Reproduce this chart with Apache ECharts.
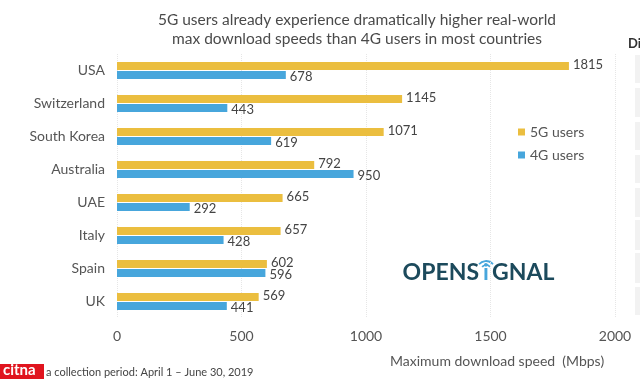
<!DOCTYPE html>
<html><head><meta charset="utf-8">
<script src="https://cdn.jsdelivr.net/npm/echarts@6/dist/echarts.min.js"></script>
<style>html,body{margin:0;padding:0;background:#fff}#c{width:640px;height:379px}</style>
</head><body><div id="c"></div>
<script>
const countries = ['USA','Switzerland','South Korea','Australia','UAE','Italy','Spain','UK'];
const users5G = [1815,1145,1071,792,665,657,602,569];
const users4G = [678,443,619,950,292,428,596,441];
const xTicks = [0,500,1000,1500,2000];
const titleText = '5G users already experience dramatically higher real-world\nmax download speeds than 4G users in most countries';
const axisName = 'Maximum download speed  (Mbps)';
const footer = 'a collection period: April 1 – June 30, 2019';

const F = 'Lato, "Open Sans", sans-serif';
const chart = echarts.init(document.getElementById('c'), null, {renderer:'canvas'});
const sideBoxes = [[55,83],[88,117],[122,150],[155,183],[188,217],[220,250],[253,283],[287,315]].map(b=>({
  type:'rect', shape:{x:635,y:b[0],width:5,height:b[1]-b[0]}, style:{fill:'#f2f2f2'}, silent:true
}));
chart.setOption({
  animation:false,
  backgroundColor:'#fff',
  title:{text:titleText,left:352,top:5,textAlign:'center',
    textStyle:{fontFamily:F,fontSize:15.5,fontWeight:'normal',color:'#4a4a4a',lineHeight:19}},
  legend:{orient:'vertical',left:513,top:120,itemWidth:7,itemHeight:7,itemGap:9,icon:'rect',
    textStyle:{fontFamily:F,fontSize:14,color:'#555'},data:['5G users','4G users']},
  grid:{left:117,right:25,top:54,bottom:61},
  xAxis:{type:'value',min:0,max:2000,interval:500,
    axisLine:{show:false},axisTick:{show:false},
    splitLine:{show:true,lineStyle:{color:'#e6e6e6',type:'dotted'}},
    axisLabel:{fontFamily:F,fontSize:14,color:'#555',margin:11,
      formatter:v=>xTicks.includes(v)?String(v):''}},
  yAxis:{type:'category',data:countries,inverse:true,
    axisLine:{show:false},axisTick:{show:false},
    axisLabel:{fontFamily:F,fontSize:14,color:'#555',margin:12}},
  series:[
    {name:'5G users',type:'bar',data:users5G,barWidth:8,barGap:'15%',itemStyle:{color:'#EBBE3F'},
      label:{show:true,position:'right',distance:4,fontFamily:F,fontSize:13,color:'#444',offset:[0,-1]}},
    {name:'4G users',type:'bar',data:users4G,barWidth:8,itemStyle:{color:'#47A6DC'},
      label:{show:true,position:'right',distance:4,fontFamily:F,fontSize:13,color:'#444',offset:[0,2]}}
  ],
  graphic:[
    {type:'text',left:390,top:354,style:{text:axisName,font:'14px '+F,fill:'#555'}},
    {type:'text',left:46,top:367,style:{text:footer,font:'11px '+F,fill:'#444'}},
    {type:'rect',shape:{x:0,y:364,width:44,height:15},style:{fill:'#e0141e'}},
    {type:'text',left:3,top:363,style:{text:'citna',font:'bold 15px '+F,fill:'#fff'}},
    {type:'text',x:479,y:284,style:{text:'OPENS',font:'bold 23px '+F,fill:'#1c4a5c',textAlign:'right',textVerticalAlign:'bottom'}},
    {type:'text',x:486,y:284,style:{text:'i',font:'bold 23px '+F,fill:'#47A6DC',textAlign:'center',textVerticalAlign:'bottom'}},
    {type:'text',x:492,y:284,style:{text:'GNAL',font:'bold 23px '+F,fill:'#1c4a5c',textAlign:'left',textVerticalAlign:'bottom'}},
    {type:'arc',shape:{cx:486,cy:270,r:5,startAngle:-Math.PI*0.78,endAngle:-Math.PI*0.22,clockwise:true},style:{stroke:'#47A6DC',lineWidth:1.8,fill:null}},
    {type:'arc',shape:{cx:486,cy:270,r:9,startAngle:-Math.PI*0.78,endAngle:-Math.PI*0.22,clockwise:true},style:{stroke:'#47A6DC',lineWidth:1.8,fill:null}},
    {type:'text',left:628,top:37,style:{text:'Di',font:'bold 13px '+F,fill:'#333'}}
  ].concat(sideBoxes)
});
</script></body></html>
